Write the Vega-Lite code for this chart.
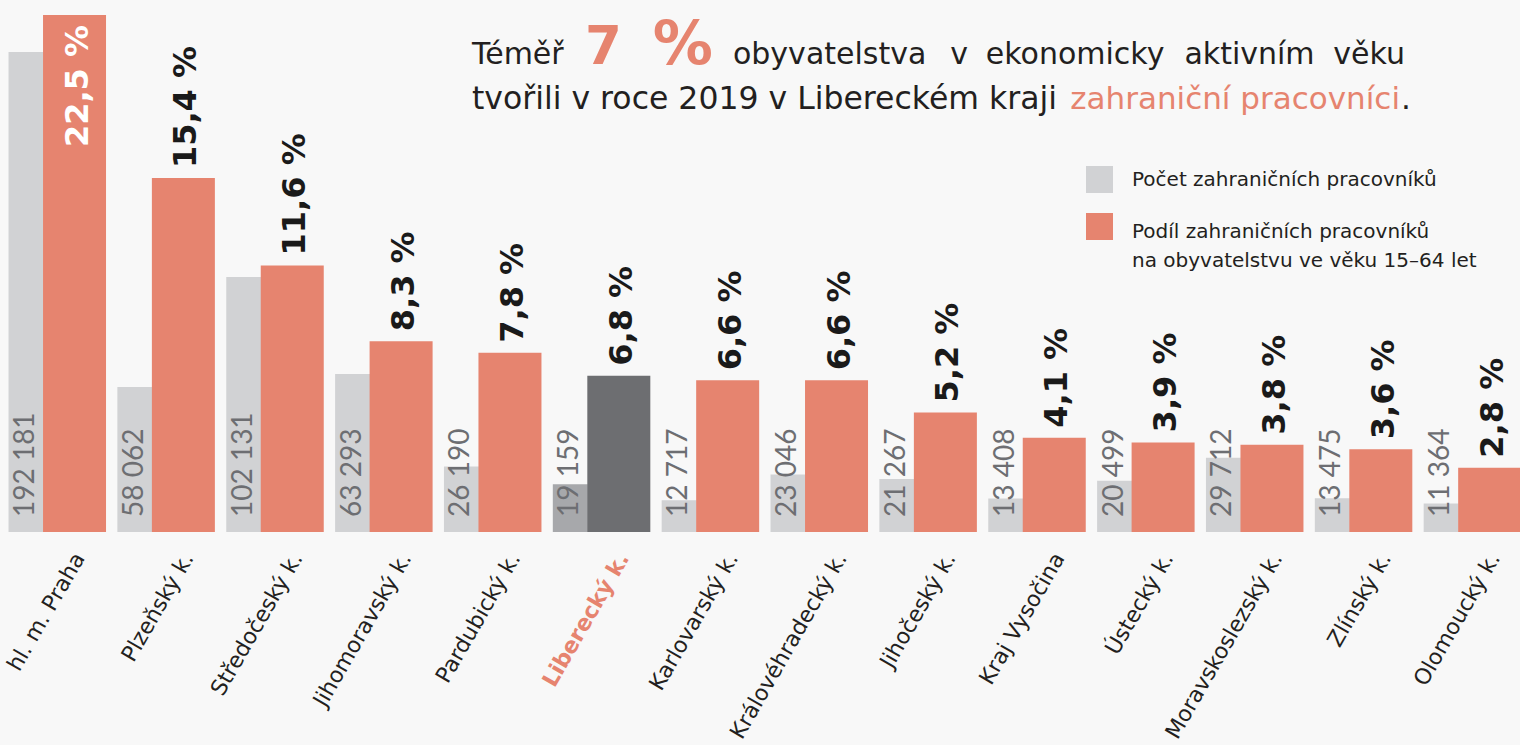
{
  "$schema": "https://vega.github.io/schema/vega-lite/v6.json",
  "width": 1520,
  "height": 532,
  "autosize": {"type": "none"},
  "padding": {"left": 0, "top": 0, "right": 0, "bottom": 213},
  "background": "#f8f8f8",
  "config": {
    "view": {"stroke": null},
    "locale": {
      "number": {
        "decimal": ",",
        "thousands": "\u00a0",
        "grouping": [3],
        "currency": ["", "\u00a0Kč"],
        "percent": "\u00a0%"
      }
    }
  },
  "data": {
    "values": [
      {"region": "hl. m. Praha", "count": 192181, "share": 0.225},
      {"region": "Plzeňský k.", "count": 58062, "share": 0.154},
      {"region": "Středočeský k.", "count": 102131, "share": 0.116},
      {"region": "Jihomoravský k.", "count": 63293, "share": 0.083},
      {"region": "Pardubický k.", "count": 26190, "share": 0.078},
      {"region": "Liberecký k.", "count": 19159, "share": 0.068},
      {"region": "Karlovarský k.", "count": 12717, "share": 0.066},
      {"region": "Královéhradecký k.", "count": 23046, "share": 0.066},
      {"region": "Jihočeský k.", "count": 21267, "share": 0.052},
      {"region": "Kraj Vysočina", "count": 13408, "share": 0.041},
      {"region": "Ústecký k.", "count": 20499, "share": 0.039},
      {"region": "Moravskoslezský k.", "count": 29712, "share": 0.038},
      {"region": "Zlínský k.", "count": 13475, "share": 0.036},
      {"region": "Olomoucký k.", "count": 11364, "share": 0.028}
    ]
  },
  "layer": [
    {
      "mark": {"type": "bar", "width": 35, "xOffset": -28.4},
      "encoding": {
        "x": {
          "field": "region", "type": "nominal", "sort": null, "title": null,
          "scale": {"range": [0, 1524], "paddingInner": 0, "paddingOuter": 0},
          "axis": {
            "title": null, "ticks": false, "tickSize": 0, "domain": false, "grid": false,
            "labelAngle": -60, "labelAlign": "right", "labelBaseline": "middle",
            "labelFont": "DejaVu Sans", "labelFontSize": 22, "labelPadding": 22, "labelOffset": 25,
            "labelLimit": 400, "labelOverlap": false,
            "labelColor": {"condition": {"test": "datum.value === 'Liberecký k.'", "value": "#e6846f"}, "value": "#231f20"},
            "labelFontWeight": {"condition": {"test": "datum.value === 'Liberecký k.'", "value": "bold"}, "value": "normal"}
          }
        },
        "y": {"field": "count", "type": "quantitative", "scale": {"domain": [0, 213000]}, "axis": null},
        "color": {
          "datum": "Počet zahraničních pracovníků", "type": "nominal",
          "condition": {"test": "datum.region === 'Liberecký k.'", "value": "#a7a8ab"},
          "scale": {
            "domain": ["Počet zahraničních pracovníků", "Podíl zahraničních pracovníků na obyvatelstvu ve věku 15–64 let"],
            "range": ["#d1d2d4", "#e6846f"]
          },
          "legend": {
            "orient": "none", "legendX": 1086, "legendY": 166, "title": null,
            "symbolType": "square", "symbolSize": 729, "symbolStrokeWidth": 0,
            "labelFont": "DejaVu Sans", "labelFontSize": 20, "labelColor": "#231f20",
            "labelOffset": 19, "labelLimit": 500, "rowPadding": 20, "padding": 0,
            "labelExpr": "indexof(datum.label, 'Podíl') === 0 ? ['Podíl zahraničních pracovníků', 'na obyvatelstvu ve věku 15–64 let'] : datum.label",
            "encode": {"labels": {"update": {"lineHeight": {"value": 29}, "dy": {"signal": "indexof(datum.label, 'Podíl') === 0 ? 5 : 0"}}}}
          }
        }
      }
    },
    {
      "mark": {"type": "bar", "width": 63, "xOffset": 20.1},
      "encoding": {
        "x": {"field": "region", "type": "nominal", "sort": null, "title": null},
        "y": {"field": "share", "type": "quantitative", "scale": {"domain": [0, 0.2315]}, "axis": null},
        "color": {
          "datum": "Podíl zahraničních pracovníků na obyvatelstvu ve věku 15–64 let", "type": "nominal",
          "condition": {"test": "datum.region === 'Liberecký k.'", "value": "#6d6e71"}
        }
      }
    },
    {
      "mark": {"type": "text", "angle": 270, "align": "left", "baseline": "middle", "dx": 15, "xOffset": -28.4, "font": "Lato", "fontSize": 28, "color": "#6d6e72"},
      "encoding": {
        "x": {"field": "region", "type": "nominal", "sort": null, "title": null},
        "y": {"datum": 0, "type": "quantitative", "scale": {"domain": [0, 213000]}, "axis": null},
        "text": {"field": "count", "type": "quantitative", "format": ",d"}
      }
    },
    {
      "transform": [{"filter": "datum.share < 0.2"}],
      "mark": {"type": "text", "angle": 270, "align": "left", "baseline": "middle", "dx": 10, "dy": 3, "xOffset": 20.1, "font": "DejaVu Sans", "fontSize": 32, "fontWeight": "bold", "color": "#1a1a1a"},
      "encoding": {
        "x": {"field": "region", "type": "nominal", "sort": null, "title": null},
        "y": {"field": "share", "type": "quantitative", "scale": {"domain": [0, 0.2315]}, "axis": null},
        "text": {"field": "share", "type": "quantitative", "format": ".1%"}
      }
    },
    {
      "transform": [{"filter": "datum.share >= 0.2"}],
      "mark": {"type": "text", "angle": 270, "align": "right", "baseline": "middle", "dx": -10, "dy": 3, "xOffset": 20.1, "font": "DejaVu Sans", "fontSize": 32, "fontWeight": "bold", "color": "#ffffff"},
      "encoding": {
        "x": {"field": "region", "type": "nominal", "sort": null, "title": null},
        "y": {"field": "share", "type": "quantitative", "scale": {"domain": [0, 0.2315]}, "axis": null},
        "text": {"field": "share", "type": "quantitative", "format": ".1%"}
      }
    },
    {
      "data": {"values": [{}]},
      "mark": {"type": "text", "text": "Téměř", "align": "left", "baseline": "alphabetic", "font": "DejaVu Sans", "fontSize": 30, "color": "#231f20", "dx": -17.9},
      "encoding": {
        "x": {"datum": "Pardubický k.", "type": "nominal"},
        "y": {"datum": 0.2037, "type": "quantitative", "scale": {"domain": [0, 0.2315]}, "axis": null}
      }
    },
    {
      "data": {"values": [{}]},
      "mark": {"type": "text", "text": "7", "align": "left", "baseline": "alphabetic", "font": "DejaVu Sans", "fontSize": 53, "fontWeight": "bold", "color": "#e6846f", "dx": -13.7},
      "encoding": {
        "x": {"datum": "Liberecký k.", "type": "nominal"},
        "y": {"datum": 0.2037, "type": "quantitative", "scale": {"domain": [0, 0.2315]}, "axis": null}
      }
    },
    {
      "data": {"values": [{}]},
      "mark": {"type": "text", "text": "%", "align": "right", "baseline": "alphabetic", "font": "DejaVu Sans", "fontSize": 60, "fontWeight": "bold", "color": "#e6846f", "dx": 5.4},
      "encoding": {
        "x": {"datum": "Karlovarský k.", "type": "nominal"},
        "y": {"datum": 0.2037, "type": "quantitative", "scale": {"domain": [0, 0.2315]}, "axis": null}
      }
    },
    {
      "data": {"values": [{}]},
      "mark": {"type": "text", "text": "obyvatelstva", "align": "left", "baseline": "alphabetic", "font": "DejaVu Sans", "fontSize": 30, "color": "#231f20", "dx": 25.4},
      "encoding": {
        "x": {"datum": "Karlovarský k.", "type": "nominal"},
        "y": {"datum": 0.2037, "type": "quantitative", "scale": {"domain": [0, 0.2315]}, "axis": null}
      }
    },
    {
      "data": {"values": [{}]},
      "mark": {"type": "text", "text": "v", "align": "left", "baseline": "alphabetic", "font": "DejaVu Sans", "fontSize": 30, "color": "#231f20", "dx": 24.9},
      "encoding": {
        "x": {"datum": "Jihočeský k.", "type": "nominal"},
        "y": {"datum": 0.2037, "type": "quantitative", "scale": {"domain": [0, 0.2315]}, "axis": null}
      }
    },
    {
      "data": {"values": [{}]},
      "mark": {"type": "text", "text": "ekonomicky", "align": "left", "baseline": "alphabetic", "font": "DejaVu Sans", "fontSize": 30, "color": "#231f20", "dx": 60.5},
      "encoding": {
        "x": {"datum": "Jihočeský k.", "type": "nominal"},
        "y": {"datum": 0.2037, "type": "quantitative", "scale": {"domain": [0, 0.2315]}, "axis": null}
      }
    },
    {
      "data": {"values": [{}]},
      "mark": {"type": "text", "text": "aktivním", "align": "left", "baseline": "alphabetic", "font": "DejaVu Sans", "fontSize": 30, "color": "#231f20", "dx": 41.4},
      "encoding": {
        "x": {"datum": "Ústecký k.", "type": "nominal"},
        "y": {"datum": 0.2037, "type": "quantitative", "scale": {"domain": [0, 0.2315]}, "axis": null}
      }
    },
    {
      "data": {"values": [{}]},
      "mark": {"type": "text", "text": "věku", "align": "right", "baseline": "alphabetic", "font": "DejaVu Sans", "fontSize": 30, "color": "#231f20", "dx": 44.3},
      "encoding": {
        "x": {"datum": "Zlínský k.", "type": "nominal"},
        "y": {"datum": 0.2037, "type": "quantitative", "scale": {"domain": [0, 0.2315]}, "axis": null}
      }
    },
    {
      "data": {"values": [{}]},
      "mark": {"type": "text", "text": "tvořili v roce 2019 v Libereckém kraji", "align": "left", "baseline": "alphabetic", "font": "DejaVu Sans", "fontSize": 31.5, "color": "#231f20", "dx": -17.9},
      "encoding": {
        "x": {"datum": "Pardubický k.", "type": "nominal"},
        "y": {"datum": 0.1841, "type": "quantitative", "scale": {"domain": [0, 0.2315]}, "axis": null}
      }
    },
    {
      "data": {"values": [{}]},
      "mark": {"type": "text", "text": "zahraniční pracovníci", "align": "right", "baseline": "alphabetic", "font": "DejaVu Sans", "fontSize": 31, "color": "#e6846f", "dx": 39.3},
      "encoding": {
        "x": {"datum": "Zlínský k.", "type": "nominal"},
        "y": {"datum": 0.1841, "type": "quantitative", "scale": {"domain": [0, 0.2315]}, "axis": null}
      }
    },
    {
      "data": {"values": [{}]},
      "mark": {"type": "text", "text": ".", "align": "left", "baseline": "alphabetic", "font": "DejaVu Sans", "fontSize": 31, "color": "#231f20", "dx": 40.3},
      "encoding": {
        "x": {"datum": "Zlínský k.", "type": "nominal"},
        "y": {"datum": 0.1841, "type": "quantitative", "scale": {"domain": [0, 0.2315]}, "axis": null}
      }
    }
  ],
  "resolve": {"scale": {"y": "independent"}}
}
